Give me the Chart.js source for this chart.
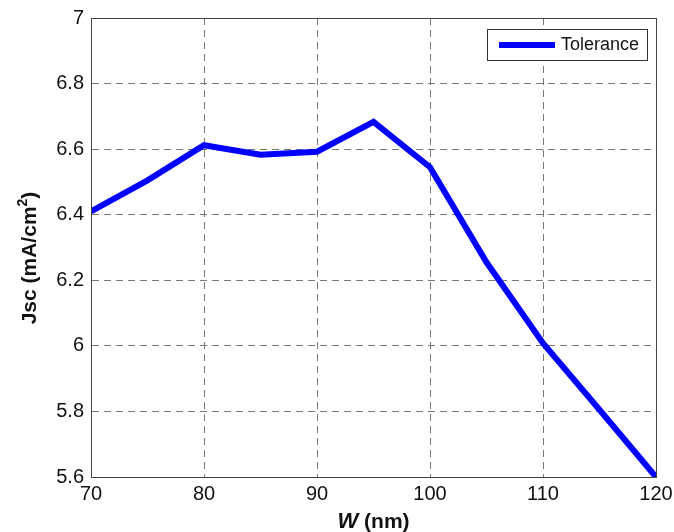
<!DOCTYPE html>
<html>
<head>
<meta charset="utf-8">
<script src="https://cdn.jsdelivr.net/npm/chart.js@4"></script>
<style>
  html, body { margin: 0; padding: 0; background: #fff; }
  #wrap { width: 674px; height: 532px; }
</style>
</head>
<body>
<div id="wrap"><canvas id="canvas" width="674" height="532"></canvas></div>
<script>
// W (nm) vs Jsc (mA/cm2)
var w_nm = [70, 75, 80, 85, 90, 95, 100, 105, 110, 115, 120]
var jsc = [6.41, 6.505, 6.612, 6.583, 6.592, 6.683, 6.545, 6.255, 6.008, 5.805, 5.6]
var seriesName = "Tolerance"
var xTicks = [70, 80, 90, 100, 110, 120]
var yTicks = [5.6, 5.8, 6, 6.2, 6.4, 6.6, 6.8, 7]

var pts = []
w_nm.forEach(function(x, i) {
    pts.push({ x: x, y: jsc[i] })
})

var FONT = "'Liberation Sans', Arial, sans-serif"

// box round plot, legend, axis titles
var extras = {
    id: "extras",
    afterDraw: function(chart) {
        var ctx = chart.ctx
        var a = chart.chartArea
        ctx.save()
        ctx.strokeStyle = "#444"
        ctx.lineWidth = 1
        ctx.strokeRect(Math.round(a.left) + 0.5, Math.round(a.top) + 0.5, Math.round(a.right - a.left), Math.round(a.bottom - a.top))

        // legend
        var lx = 487, ly = 29, lw = 160, lh = 31
        ctx.fillStyle = "#fff"
        ctx.fillRect(lx, ly, lw, lh)
        ctx.strokeStyle = "#333"
        ctx.strokeRect(lx + 0.5, ly + 0.5, lw, lh)
        ctx.strokeStyle = "#0000ff"
        ctx.lineWidth = 6
        ctx.beginPath()
        ctx.moveTo(499, ly + lh / 2 + 0.5)
        ctx.lineTo(555, ly + lh / 2 + 0.5)
        ctx.stroke()
        ctx.fillStyle = "#111"
        ctx.font = "18px " + FONT
        ctx.textBaseline = "middle"
        ctx.textAlign = "left"
        ctx.fillText(seriesName, 561, ly + lh / 2 + 1)

        // x title with italic W
        ctx.font = "italic bold 22px " + FONT
        var wW = ctx.measureText("W").width
        ctx.font = "bold 21px " + FONT
        var rest = " (nm)"
        var wR = ctx.measureText(rest).width
        var cx = (a.left + a.right) / 2
        var x0 = cx - (wW + wR) / 2
        ctx.textBaseline = "alphabetic"
        ctx.font = "italic bold 22px " + FONT
        ctx.fillText("W", x0, 528)
        ctx.font = "bold 21px " + FONT
        ctx.fillText(rest, x0 + wW, 528)

        // y title, superscript 2 drawn raised
        ctx.translate(36, 258)
        ctx.rotate(-Math.PI / 2)
        ctx.textBaseline = "alphabetic"
        ctx.textAlign = "left"
        var p1 = "Jsc (mA/cm", p2 = "2", p3 = ")"
        ctx.font = "bold 21px " + FONT
        var w1 = ctx.measureText(p1).width, w3 = ctx.measureText(p3).width
        ctx.font = "bold 14px " + FONT
        var w2 = ctx.measureText(p2).width
        var sx = -(w1 + w2 + w3) / 2
        ctx.font = "bold 21px " + FONT
        ctx.fillText(p1, sx, 0)
        ctx.font = "bold 14px " + FONT
        ctx.fillText(p2, sx + w1, -9)
        ctx.font = "bold 21px " + FONT
        ctx.fillText(p3, sx + w1 + w2, 0)
        ctx.restore()
    }
}

var chart = new Chart(document.getElementById("canvas").getContext("2d"), {
    type: "line",
    data: {
        datasets: [{
            label: seriesName,
            data: pts,
            borderColor: "#0000ff",
            backgroundColor: "#0000ff",
            borderWidth: 6,
            pointRadius: 0,
            tension: 0,
            fill: false,
            borderJoinStyle: "miter"
        }]
    },
    options: {
        responsive: false,
        animation: false,
        layout: { padding: { left: 0, right: 18, top: 18, bottom: 0 } },
        plugins: {
            legend: { display: false },
            tooltip: { enabled: false }
        },
        scales: {
            x: {
                type: "linear",
                min: 70,
                max: 120,
                afterBuildTicks: function(s) { s.ticks = xTicks.map(function(v) { return { value: v } }) },
                afterFit: function(s) { s.height = 55; s.paddingRight = 0; s.paddingLeft = 0 },
                ticks: {
                    color: "#111",
                    font: { size: 20, family: FONT },
                    padding: 5,
                    maxRotation: 0,
                    callback: function(v) { return String(v) }
                },
                grid: { color: "#777", lineWidth: 1, drawTicks: false },
                border: { display: true, color: "#444", dash: [7, 5] }
            },
            y: {
                min: 5.6,
                max: 7,
                afterBuildTicks: function(s) { s.ticks = yTicks.map(function(v) { return { value: v } }) },
                afterFit: function(s) { s.width = 91; s.paddingTop = 0; s.paddingBottom = 0 },
                ticks: {
                    color: "#111",
                    font: { size: 20, family: FONT },
                    padding: 7,
                    callback: function(v) { return String(+v.toFixed(1)) }
                },
                grid: { color: "#777", lineWidth: 1, drawTicks: false },
                border: { display: true, color: "#444", dash: [7, 5] }
            }
        }
    },
    plugins: [extras]
})
</script>
</body>
</html>
